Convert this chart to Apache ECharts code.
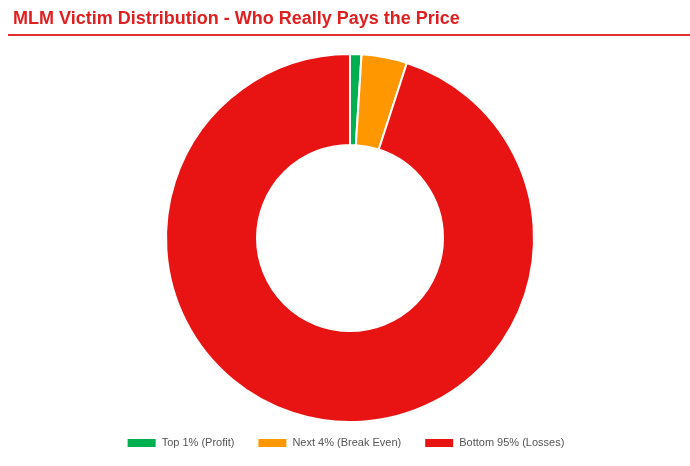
<!DOCTYPE html>
<html><head><meta charset="utf-8">
<script src="https://cdn.jsdelivr.net/npm/echarts@6/dist/echarts.min.js"></script>
<style>html,body{margin:0;padding:0;background:#fff}#c{width:690px;height:466px}</style>
</head><body><div id="c"></div>
<script>
const categories = ['Top 1% (Profit)', 'Next 4% (Break Even)', 'Bottom 95% (Losses)'];
const values = [1, 4, 95];
const colors = ['#00b050', '#ff9800', '#e81414'];
const chart = echarts.init(document.getElementById('c'));
chart.setOption({
  animation: false,
  title: { text: 'MLM Victim Distribution - Who Really Pays the Price', left: 8, top: 5,
    textStyle: { color: '#e02020', fontSize: 18, fontWeight: 'bold', fontFamily: 'Liberation Sans, Arial' } },
  graphic: [{ type: 'rect', shape: { x: 8, y: 34, width: 682, height: 2 }, style: { fill: '#e03030' } }],
  legend: { bottom: 12, itemWidth: 30, itemHeight: 10, itemGap: 22, icon: 'rect',
    textStyle: { fontSize: 11, color: '#555', fontFamily: 'Liberation Sans, Arial' } },
  series: [{
    type: 'pie', center: [350, 238], radius: [93, 184], startAngle: 90, clockwise: true,
    label: { show: false }, labelLine: { show: false },
    itemStyle: { borderColor: '#fff', borderWidth: 2 },
    data: categories.map((n, i) => ({ name: n, value: values[i], itemStyle: { color: colors[i] } }))
  }]
});
</script></body></html>
